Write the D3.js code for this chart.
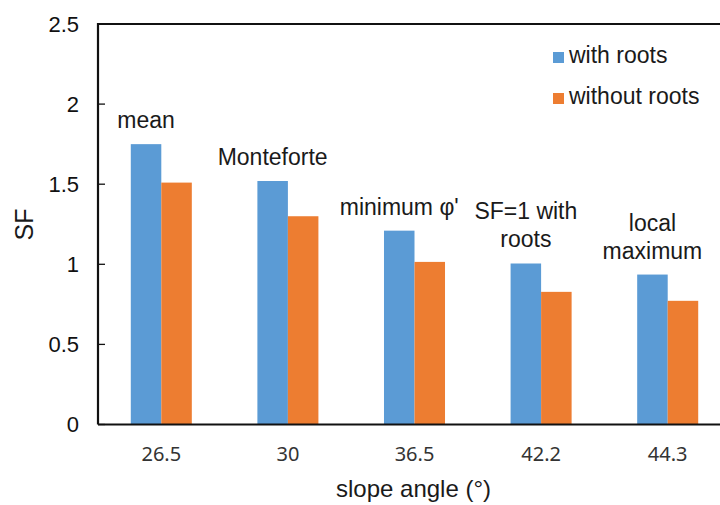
<!DOCTYPE html>
<html><head><meta charset="utf-8">
<script src="https://cdn.jsdelivr.net/npm/d3@7"></script>
<style>body{margin:0;background:#fff}svg{display:block}</style>
</head><body>
<script>
const categories = ["26.5","30","36.5","42.2","44.3"];
const withRoots = [1.75, 1.52, 1.21, 1.005, 0.936];
const withoutRoots = [1.51, 1.30, 1.015, 0.828, 0.772];
const seriesNames = ["with roots","without roots"];
const annotations = [["mean"],["Monteforte"],["minimum φ'"],["SF=1 with","roots"],["local","maximum"]];
const yTicks = [0,0.5,1,1.5,2,2.5];
const colors = ["#5B9BD5","#ED7D31"];

const W=720,H=505;
const svg=d3.select("body").append("svg").attr("width",W).attr("height",H);
const L=98,R=731,T=24,B=424.5;
const x=d3.scaleBand().domain(categories).range([L,R]).paddingInner(0.518).paddingOuter(0.259);
const xs=d3.scaleBand().domain(seriesNames).range([0,x.bandwidth()]);
const y=d3.scaleLinear().domain([0,2.5]).range([B,T]);
const font="'Liberation Sans', Arial, sans-serif";

const data=categories.map((c,i)=>({c,vals:[withRoots[i],withoutRoots[i]],ann:annotations[i]}));

// bars
const g=svg.append("g");
data.forEach(d=>{
  d.vals.forEach((v,j)=>{
    g.append("rect").attr("x",x(d.c)+xs(seriesNames[j])).attr("width",xs.bandwidth())
     .attr("y",y(v)).attr("height",y(0)-y(v)).attr("fill",colors[j]);
  });
  const cx=x(d.c)+xs(seriesNames[0])+xs.bandwidth()/2;
  const base=y(d.vals[0])-16;
  const n=d.ann.length;
  d.ann.forEach((t,k)=>{
    svg.append("text").attr("x",cx).attr("y",base-(n-1-k)*28).attr("text-anchor","middle")
      .attr("font-family",font).attr("font-size",23).attr("fill","#1a1a1a").text(t);
  });
});

// y axis
const ya=svg.append("g").attr("transform",`translate(${L},0)`)
  .call(d3.axisLeft(y).tickValues(yTicks).tickSizeInner(-7).tickSizeOuter(0).tickPadding(19).offset(0).tickFormat(d3.format("")));
ya.select(".domain").remove();
ya.selectAll(".tick line").attr("stroke","#111").attr("stroke-width",1.3);
ya.selectAll(".tick text").attr("font-family",font).attr("font-size",22).attr("fill","#111").attr("dy","0.36em");

// x axis
const xa=svg.append("g").attr("transform",`translate(0,${B})`)
  .call(d3.axisBottom(x).tickSize(0).tickPadding(22).offset(0));
xa.select(".domain").remove();
xa.selectAll(".tick text").attr("font-family","'Noto Sans', sans-serif").attr("font-size",20).attr("fill","#333").attr("dy","0.71em");

// frame
svg.append("path").attr("d",`M${L},${B}V${T}H${R}V${B}H${L}`).attr("fill","none")
  .attr("stroke","#111").attr("stroke-width",2.2).attr("stroke-linejoin","miter");

// titles
svg.append("text").attr("x",(L+R)/2-1).attr("y",497).attr("text-anchor","middle")
  .attr("font-family",font).attr("font-size",24).attr("fill","#1a1a1a").text("slope angle (°)");
svg.append("text").attr("transform","translate(33,224.5) rotate(-90)").attr("text-anchor","middle")
  .attr("font-family",font).attr("font-size",25).attr("fill","#1a1a1a").text("SF");

// legend
seriesNames.forEach((s,i)=>{
  const ly=[63,104][i];
  svg.append("rect").attr("x",553).attr("y",ly-11).attr("width",11).attr("height",11).attr("fill",colors[i]);
  svg.append("text").attr("x",569).attr("y",ly).attr("font-family",font).attr("font-size",23).attr("fill","#1a1a1a").text(s);
});
</script>
</body></html>
